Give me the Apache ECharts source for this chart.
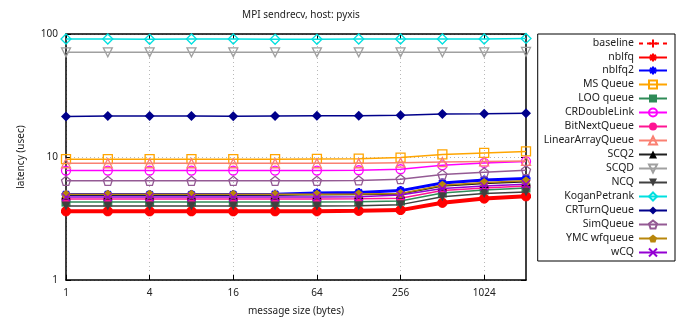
<!DOCTYPE html>
<html>
<head>
<meta charset="utf-8">
<script src="https://cdn.jsdelivr.net/npm/echarts@6/dist/echarts.min.js"></script>
<style>
html,body{margin:0;padding:0;background:#fff;}
#main{width:682px;height:324px;}
</style>
</head>
<body>
<div id="main"></div>
<script>
// ---- data ----
const sizes = ['1','2','4','8','16','32','64','128','256','512','1024','2048'];
const seriesNames = ['baseline','nblfq','nblfq2','MS Queue','LOO queue','CRDoubleLink','BitNextQueue','LinearArrayQueue','SCQ2','SCQD','NCQ','KoganPetrank','CRTurnQueue','SimQueue','YMC wfqueue','wCQ'];
const baseline        = [3.60,3.60,3.60,3.60,3.60,3.60,3.61,3.63,3.68,4.22,4.58,4.78];
const nblfq           = [3.62,3.62,3.62,3.62,3.62,3.62,3.63,3.65,3.70,4.25,4.60,4.80];
const nblfq2          = [4.95,4.95,4.95,4.95,4.95,4.97,5.10,5.15,5.33,6.15,6.50,6.70];
const msQueue         = [9.60,9.60,9.60,9.60,9.60,9.60,9.65,9.70,9.90,10.5,10.8,11.1];
const looQueue        = [4.30,4.30,4.30,4.30,4.30,4.30,4.30,4.32,4.38,5.10,5.40,5.60];
const crDoubleLink    = [7.75,7.75,7.75,7.75,7.75,7.75,7.75,7.80,7.95,8.55,8.95,9.20];
const bitNextQueue    = [4.55,4.55,4.55,4.55,4.55,4.55,4.55,4.57,4.62,5.35,5.60,5.80];
const linearArrayQueue= [8.90,8.90,8.90,8.90,8.90,8.90,8.90,8.90,9.00,9.10,9.20,9.30];
const scq2            = [4.92,4.92,4.92,4.92,4.92,4.92,4.94,4.96,5.00,5.80,6.10,6.30];
const scqd            = [71,71,71,71,71,71,71,71,71,71,71,71.5];
const ncq             = [4.00,4.00,4.00,4.00,4.00,4.00,4.00,4.02,4.10,4.75,5.05,5.20];
const koganPetrank    = [91,91,90.5,91,91,90.5,90.5,91,91,91,91,92];
const crTurnQueue     = [21.3,21.5,21.5,21.5,21.4,21.5,21.6,21.6,21.9,22.4,22.5,22.7];
const simQueue        = [6.40,6.40,6.40,6.40,6.40,6.40,6.40,6.45,6.60,7.20,7.50,7.80];
const ymcWfqueue      = [4.97,4.97,4.97,4.97,4.97,4.97,4.98,5.00,5.05,5.90,6.20,6.40];
const wcq             = [4.72,4.72,4.72,4.72,4.72,4.72,4.73,4.75,4.90,5.55,5.80,6.00];
const yTicks = [1,10,100];

const seriesData = [baseline,nblfq,nblfq2,msQueue,looQueue,crDoubleLink,bitNextQueue,linearArrayQueue,scq2,scqd,ncq,koganPetrank,crTurnQueue,simQueue,ymcWfqueue,wcq];

// ---- styles ----
const PLUS = 'path://M0,5L10,5M5,0L5,10';
const STAR = 'path://M0,5L10,5M5,0L5,10M1.5,1.5L8.5,8.5M1.5,8.5L8.5,1.5';
const XMARK = 'path://M0,0L10,10M0,10L10,0';
const PENT = 'path://M5,0L10,3.8L8.1,9.6L1.9,9.6L0,3.8Z';
const TRI = 'path://M5,0L10,9L0,9Z';
const DTRI = 'path://M0,0L10,0L5,9Z';
const styles = [
  {c:'#ff0000', w:1.2, sym:PLUS, size:9, fill:'none', bw:1.5, dash:[4,4]},
  {c:'#ff0000', w:4,   sym:STAR, size:10, fill:'#ff0000', bw:3.5},
  {c:'#0000ff', w:3,   sym:STAR, size:9, fill:'#0000ff', bw:2.5},
  {c:'#ffa500', w:1.5, sym:'rect', size:9, fill:'none', bw:1.3},
  {c:'#2e8b57', w:1.5, sym:'rect', size:9, fill:'#2e8b57', bw:0},
  {c:'#ff00ff', w:1.5, sym:'circle', size:9, fill:'none', bw:1.3},
  {c:'#ff1493', w:1.5, sym:'circle', size:9, fill:'#ff1493', bw:0},
  {c:'#fa8072', w:1.5, sym:TRI, size:9, fill:'none', bw:1.3},
  {c:'#202020', w:1.5, sym:TRI, size:9, fill:'#000000', bw:0},
  {c:'#a0a0a0', w:1.5, sym:DTRI, size:9, fill:'none', bw:1.3},
  {c:'#404040', w:1.5, sym:DTRI, size:9, fill:'#404040', bw:0},
  {c:'#00e0e0', w:1.5, sym:'diamond', size:10, fill:'none', bw:1.3},
  {c:'#00008b', w:1.5, sym:'diamond', size:10, fill:'#00008b', bw:0},
  {c:'#945a94', w:1.5, sym:PENT, size:9, fill:'none', bw:1.3},
  {c:'#b8860b', w:1.5, sym:PENT, size:9, fill:'#b8860b', bw:0},
  {c:'#9400d3', w:1.5, sym:XMARK, size:8, fill:'none', bw:1.3}
];

const FONT = 'Noto Sans';
const series = seriesNames.map((name, i) => {
  const s = styles[i];
  return {
    name: name,
    type: 'line',
    xAxisIndex: 0,
    yAxisIndex: 0,
    data: seriesData[i],
    symbol: s.sym,
    symbolSize: s.size,
    showAllSymbol: true,
    z: 2 + i * 0.01,
    lineStyle: {color: s.c, width: s.w, type: s.dash ? s.dash : 'solid'},
    itemStyle: {color: s.fill, borderColor: s.c, borderWidth: s.bw, borderType:'solid'},
    emphasis: {disabled: true},
    animation: false
  };
});

const option = {
  animation: false,
  backgroundColor: '#fff',
  title: {
    text: 'MPI sendrecv, host: pyxis',
    left: 296, top: 5, textAlign: 'center',
    textStyle: {fontFamily: FONT, fontSize: 10, fontWeight: 'normal', color: '#222'}
  },
  legend: {
    orient: 'vertical',
    align: 'right',
    right: 7, top: 34,
    padding: [3, 7, 2, 6],
    itemGap: 2,
    itemWidth: 28, itemHeight: 10,
    borderColor: '#000', borderWidth: 1,
    textStyle: {fontFamily: FONT, fontSize: 10.5, color: '#222'},
    data: seriesNames
  },
  grid: {left: 66, right: 156, top: 34, bottom: 44, show: false},
  xAxis: [{
    type: 'category', data: sizes, boundaryGap: false,
    name: 'message size (bytes)', nameLocation: 'middle', nameGap: 26,
    nameTextStyle: {fontFamily: FONT, fontSize: 10, color: '#222'},
    axisLine: {lineStyle: {color: '#000', width: 1.5}},
    axisTick: {inside: true, length: 5, interval: 1, lineStyle: {color: '#000'}},
    axisLabel: {interval: 1, fontFamily: FONT, fontSize: 10, color: '#222', margin: 8},
    splitLine: {show: true, interval: 1, lineStyle: {type: [1,3], color: '#b8b8b8'}}
  },{
    type: 'category', data: sizes, boundaryGap: false, position: 'top',
    axisLine: {lineStyle: {color: '#000', width: 1.5}},
    axisTick: {inside: true, length: 5, interval: 1, lineStyle: {color: '#000'}},
    axisLabel: {show: false}, splitLine: {show: false}
  }],
  yAxis: [{
    type: 'log', logBase: 10, min: yTicks[0], max: yTicks[yTicks.length-1],
    name: 'latency (usec)', nameLocation: 'middle', nameGap: 40, nameRotate: 90,
    nameTextStyle: {fontFamily: FONT, fontSize: 10, color: '#222'},
    axisLine: {show: true, lineStyle: {color: '#000', width: 1.5}},
    axisTick: {show: true, inside: true, length: 5, lineStyle: {color: '#000'}},
    axisLabel: {fontFamily: FONT, fontSize: 10, color: '#222', margin: 8},
    splitLine: {show: true, lineStyle: {type: [1,3], color: '#b8b8b8'}}
  },{
    type: 'log', logBase: 10, min: yTicks[0], max: yTicks[yTicks.length-1], position: 'right',
    axisLine: {show: true, lineStyle: {color: '#000', width: 1.5}},
    axisTick: {show: true, inside: true, length: 5, lineStyle: {color: '#000'}},
    axisLabel: {show: false}, splitLine: {show: false}
  }],
  series: series
};
const chart = echarts.init(document.getElementById('main'), null, {renderer: 'canvas'});
chart.setOption(option);
</script>
</body>
</html>
